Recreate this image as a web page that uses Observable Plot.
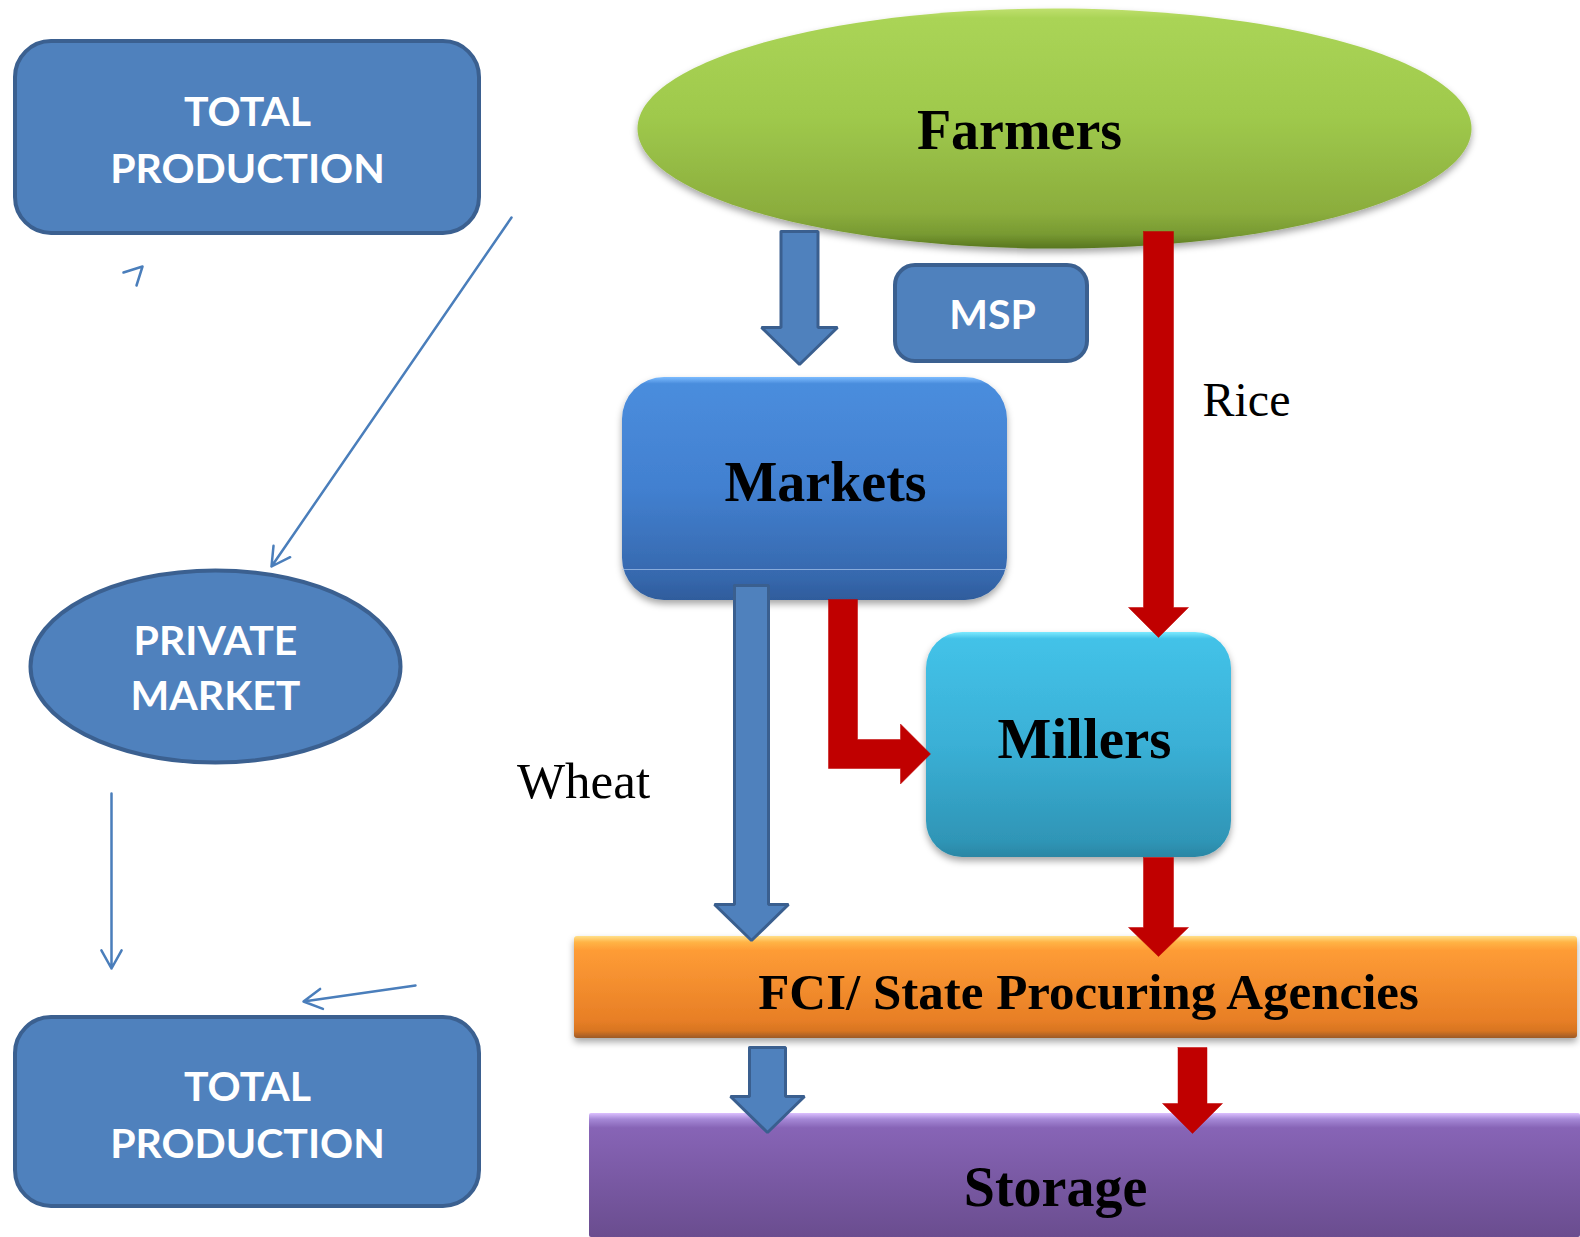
<!DOCTYPE html>
<html><head><meta charset="utf-8">
<script src="https://cdn.jsdelivr.net/npm/d3@7"></script>
<script src="https://cdn.jsdelivr.net/npm/@observablehq/plot@0.6"></script>
<style>html,body{margin:0;padding:0;background:#fff;} svg{display:block}</style>
</head><body><div id="chart"></div>
<script>
// ---------------- content ----------------
const nodeNames = ["Farmers", "Markets", "Millers", "FCI/ State Procuring Agencies", "Storage"];
const tagNames = ["MSP"];
const sideTopLines = ["TOTAL", "PRODUCTION"];
const sideMidLines = ["PRIVATE", "MARKET"];
const sideBottomLines = ["TOTAL", "PRODUCTION"];
const flowNames = ["Rice", "Wheat"];
const flowKinds = ["wheat", "rice", "wheat", "rice", "wheat", "rice"]; // vertical block arrows
const elbowKinds = ["rice"];

// ---------------- layout (pixels in a 1580 x 1237 frame) ----------------
const W = 1580, H = 1237;
const colors = {
  wheat: {fill: "#4f81bd", stroke: "#3a5f8f", sw: 3},
  rice: {fill: "#c00000", stroke: "#c00000", sw: 0.5}
};
const boxLayout = [
  {x1: 15, y1: 41, x2: 479, y2: 233, rx: 36, fill: "#4f81bd", stroke: "#3b6090", sw: 4, shadow: false},   // total top
  {x1: 895, y1: 265, x2: 1087, y2: 361, rx: 20, fill: "#4f81bd", stroke: "#3b6090", sw: 4, shadow: false}, // MSP
  {x1: 622, y1: 377, x2: 1007, y2: 600, rx: 42, fill: "url(#gMarkets)", stroke: "none", sw: 0, shadow: true},
  {x1: 926, y1: 632, x2: 1231, y2: 857, rx: 36, fill: "url(#gMillers)", stroke: "none", sw: 0, shadow: true},
  {x1: 574, y1: 936, x2: 1577, y2: 1038, rx: 3, fill: "url(#gFCI)", stroke: "none", sw: 0, shadow: true},
  {x1: 589, y1: 1113, x2: 1580, y2: 1237, rx: 2, fill: "url(#gStorage)", stroke: "none", sw: 0, shadow: false},
  {x1: 15, y1: 1017, x2: 479, y2: 1206, rx: 36, fill: "#4f81bd", stroke: "#3b6090", sw: 4, shadow: false}   // total bottom
];
const ovalLayout = [
  {cx: 1054, cy: 128, rx: 417, ry: 120, fill: "url(#gFarmers)", stroke: "none", sw: 0, shadow: true},
  {cx: 215, cy: 666, rx: 185, ry: 96, fill: "#4f81bd", stroke: "#3b6090", sw: 4, shadow: false}
];
const blockLayout = [
  {x: 799, y0: 231, yb: 327, yt: 364, hw: 18.5, HW: 38},
  {x: 1158, y0: 231, yb: 607, yt: 637, hw: 15, HW: 30},
  {x: 751, y0: 585, yb: 904, yt: 940, hw: 17, HW: 37},
  {x: 1158, y0: 857, yb: 927, yt: 956, hw: 15, HW: 30},
  {x: 767, y0: 1047, yb: 1096, yt: 1132, hw: 18, HW: 37},
  {x: 1192, y0: 1047, yb: 1103, yt: 1133, hw: 14.5, HW: 30}
];
const elbowLayout = [{x: 842.5, y0: 599, yc: 753.5, xb: 900, xt: 930, hw: 14.5, HW: 30}];
const thinArrowLayout = [
  {x1: 511, y1: 217, x2: 271, y2: 566},
  {x1: 111, y1: 793, x2: 111, y2: 968},
  {x1: 415, y1: 985, x2: 303, y2: 1001}
];
const stubLayout = [{x: 123, y: 272}, {x: 142, y: 266}, {x: 136, y: 285}];
const nodeText = [
  {x: 1019, y: 148, size: 56}, {x: 825, y: 500, size: 56}, {x: 1084, y: 757, size: 57},
  {x: 1088, y: 1008, size: 51}, {x: 1055, y: 1205, size: 56}
];
const tagText = [{x: 992, y: 328, size: 41}];
const sideTopText = [{x: 247, y: 125}, {x: 247, y: 182}];
const sideMidText = [{x: 215, y: 654}, {x: 215, y: 709}];
const sideBottomText = [{x: 247, y: 1100}, {x: 247, y: 1157}];
const flowText = [{x: 1246, y: 415, size: 48}, {x: 583, y: 797, size: 51}];

// ---------------- helpers ----------------
function ellipseSymbol(k) {
  const c = 0.5522847498;
  return {draw(ctx, size) {
    const rx = Math.sqrt(size / Math.PI), ry = rx * k;
    ctx.moveTo(rx, 0);
    ctx.bezierCurveTo(rx, c * ry, c * rx, ry, 0, ry);
    ctx.bezierCurveTo(-c * rx, ry, -rx, c * ry, -rx, 0);
    ctx.bezierCurveTo(-rx, -c * ry, -c * rx, -ry, 0, -ry);
    ctx.bezierCurveTo(c * rx, -ry, rx, -c * ry, rx, 0);
    ctx.closePath();
  }};
}
const blockPoly = a => [
  [a.x - a.hw, a.y0], [a.x + a.hw, a.y0], [a.x + a.hw, a.yb], [a.x + a.HW, a.yb], [a.x, a.yt],
  [a.x - a.HW, a.yb], [a.x - a.hw, a.yb], [a.x - a.hw, a.y0]
].map(([x, y]) => ({x, y}));
const elbowPoly = a => [
  [a.x - a.hw, a.y0], [a.x + a.hw, a.y0], [a.x + a.hw, a.yc - a.hw], [a.xb, a.yc - a.hw], [a.xb, a.yc - a.HW],
  [a.xt, a.yc], [a.xb, a.yc + a.HW], [a.xb, a.yc + a.hw], [a.x - a.hw, a.yc + a.hw], [a.x - a.hw, a.y0]
].map(([x, y]) => ({x, y}));

const boldSerif = "'Liberation Serif', 'Times New Roman', serif";
const sans = "Lato, 'Open Sans', sans-serif";

// ---------------- marks ----------------
const marks = [];
ovalLayout.forEach(e => marks.push(Plot.dot([e], {
  x: "cx", y: "cy", r: e.rx, symbol: ellipseSymbol(e.ry / e.rx),
  fill: e.fill, stroke: e.stroke, strokeWidth: e.sw, ariaDescription: e.shadow ? "shadow" : "flat"
})));
boxLayout.forEach(b => marks.push(Plot.rect([b], {
  x1: "x1", x2: "x2", y1: "y1", y2: "y2", rx: b.rx, ry: b.rx,
  fill: b.fill, stroke: b.stroke, strokeWidth: b.sw, ariaDescription: b.shadow ? "shadow" : "flat"
})));
// glossy seam on the Markets box
marks.push(Plot.ruleY([569], {x1: 622, x2: 1007, stroke: "#a9c8ee", strokeWidth: 1, strokeOpacity: 0.7}));

blockLayout.forEach((a, i) => {
  const c = colors[flowKinds[i]];
  marks.push(Plot.line(blockPoly(a), {x: "x", y: "y", fill: c.fill, stroke: c.stroke, strokeWidth: c.sw, strokeLinejoin: "miter", curve: "linear"}));
});
elbowLayout.forEach((a, i) => {
  const c = colors[elbowKinds[i]];
  marks.push(Plot.line(elbowPoly(a), {x: "x", y: "y", fill: c.fill, stroke: c.stroke, strokeWidth: c.sw, strokeLinejoin: "miter", curve: "linear"}));
});
marks.push(Plot.arrow(thinArrowLayout, {x1: "x1", y1: "y1", x2: "x2", y2: "y2", stroke: "#4a7ebb", strokeWidth: 2.5, headLength: 12.5, headAngle: 58}));
marks.push(Plot.line(stubLayout, {x: "x", y: "y", stroke: "#4a7ebb", strokeWidth: 2.5, curve: "linear"}));

// texts
marks.push(Plot.text(nodeText.map((t, i) => ({...t, text: nodeNames[i]})), {
  x: "x", y: "y", text: "text", fontSize: d => d.size, fontFamily: boldSerif, fontWeight: "bold",
  fill: "#000", textAnchor: "middle", lineAnchor: "bottom"
}));
marks.push(Plot.text(tagText.map((t, i) => ({...t, text: tagNames[i]})), {
  x: "x", y: "y", text: "text", fontSize: 41, fontFamily: sans, fontWeight: "bold",
  fill: "#fff", textAnchor: "middle", lineAnchor: "bottom"
}));
const sideLines = [
  ...sideTopText.map((t, i) => ({...t, text: sideTopLines[i]})),
  ...sideMidText.map((t, i) => ({...t, text: sideMidLines[i]})),
  ...sideBottomText.map((t, i) => ({...t, text: sideBottomLines[i]}))
];
marks.push(Plot.text(sideLines, {
  x: "x", y: "y", text: "text", fontSize: 41, fontFamily: sans, fontWeight: "bold",
  fill: "#fff", textAnchor: "middle", lineAnchor: "bottom"
}));
marks.push(Plot.text(flowText.map((t, i) => ({...t, text: flowNames[i]})), {
  x: "x", y: "y", text: "text", fontSize: d => d.size, fontFamily: boldSerif, fontWeight: "normal",
  fill: "#000", textAnchor: "middle", lineAnchor: "bottom"
}));

const svg = Plot.plot({
  width: W, height: H, margin: 0,
  x: {domain: [0, W], range: [0, W], axis: null},
  y: {domain: [0, H], range: [0, H], axis: null},
  style: {background: "#fff", overflow: "visible"},
  marks
});

d3.select(svg).insert("defs", ":first-child").html(`
  <linearGradient id="gFarmers" x1="0" y1="0" x2="0" y2="1">
    <stop offset="0" stop-color="#bfe06e"/>
    <stop offset="0.04" stop-color="#aad456"/>
    <stop offset="0.45" stop-color="#9fc94c"/>
    <stop offset="0.85" stop-color="#8bad3d"/>
    <stop offset="0.94" stop-color="#789a32"/>
    <stop offset="1" stop-color="#58761f"/>
  </linearGradient>
  <linearGradient id="gMarkets" x1="0" y1="0" x2="0" y2="1">
    <stop offset="0" stop-color="#7cbcff"/>
    <stop offset="0.03" stop-color="#4a8ddd"/>
    <stop offset="0.5" stop-color="#4280d0"/>
    <stop offset="0.9" stop-color="#3668ad"/>
    <stop offset="1" stop-color="#2f5c9c"/>
  </linearGradient>
  <linearGradient id="gMillers" x1="0" y1="0" x2="0" y2="1">
    <stop offset="0" stop-color="#7ceaff"/>
    <stop offset="0.03" stop-color="#43c2e8"/>
    <stop offset="0.5" stop-color="#3ab0d6"/>
    <stop offset="0.93" stop-color="#2f95b6"/>
    <stop offset="1" stop-color="#2a86a4"/>
  </linearGradient>
  <linearGradient id="gFCI" x1="0" y1="0" x2="0" y2="1">
    <stop offset="0" stop-color="#ffe08a"/>
    <stop offset="0.06" stop-color="#ffb446"/>
    <stop offset="0.14" stop-color="#fe9c36"/>
    <stop offset="0.82" stop-color="#e87f26"/>
    <stop offset="0.93" stop-color="#d87522"/>
    <stop offset="1" stop-color="#9c5a28"/>
  </linearGradient>
  <linearGradient id="gStorage" x1="0" y1="0" x2="0" y2="1">
    <stop offset="0" stop-color="#dcc0ff"/>
    <stop offset="0.05" stop-color="#a588d6"/>
    <stop offset="0.12" stop-color="#8764b6"/>
    <stop offset="1" stop-color="#6a4d8f"/>
  </linearGradient>
  <filter id="shadow" x="-10%" y="-20%" width="120%" height="150%">
    <feDropShadow dx="0" dy="4" stdDeviation="3.5" flood-color="#000" flood-opacity="0.35"/>
  </filter>
`);
d3.select(svg).selectAll('[aria-description="shadow"]').attr("filter", "url(#shadow)");
document.getElementById("chart").appendChild(svg);
</script>
</body></html>
